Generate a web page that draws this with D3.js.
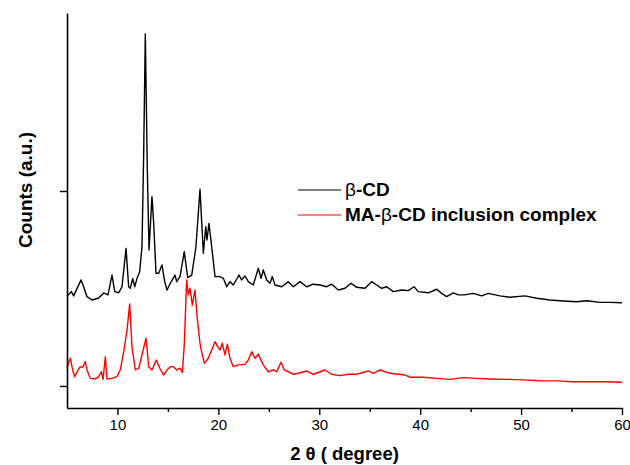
<!doctype html>
<html lang="en">
<head>
<meta charset="utf-8">
<title>XRD</title>
<script src="https://d3js.org/d3.v7.min.js"></script>
<style>
  body { margin: 0; background: #fff; }
  text { font-family: "Liberation Sans", Arial, sans-serif; }
</style>
</head>
<body>
<div id="chart"></div>
<script>
// beta-CD pattern: 2theta (degree), counts (a.u.)
var bcdAngle = [5.0, 5.43, 5.66, 6.39, 6.65, 6.98, 7.48, 8.14, 8.64, 9.06, 9.46, 9.73, 10.12, 10.45, 10.85, 11.11, 11.27, 11.51, 11.71, 11.94,
  12.20, 12.43, 12.60, 12.76, 12.96, 13.13, 13.42, 13.59, 13.82, 14.09, 14.41, 14.68, 14.91, 15.24, 15.70, 15.87, 16.20, 16.62, 16.96, 17.36,
  17.78, 18.18, 18.51, 18.75, 18.87, 19.07, 19.34, 19.67, 20.16, 20.49, 20.83, 21.15, 21.48, 22.04, 22.31, 22.64, 22.97, 23.46, 23.96, 24.23,
  24.45, 24.79, 25.12, 25.35, 25.61, 26.28, 26.93, 27.43, 28.09, 28.75, 29.41, 30.07, 30.74, 31.23, 31.89, 32.55, 33.14, 33.71, 34.53, 35.20,
  35.69, 36.19, 36.68, 37.34, 38.17, 38.82, 39.39, 39.81, 40.80, 41.64, 42.13, 42.63, 43.28, 43.78, 44.37, 45.26, 46.10, 46.75, 47.91, 48.90,
  50.39, 51.55, 52.86, 54.18, 55.51, 56.50, 57.82, 58.81, 60.0];
var bcdCounts = [460, 484, 462, 544, 509, 458, 441, 451, 477, 467, 569, 484, 478, 509, 706, 509, 501, 552, 509, 552,
  586, 714, 1195, 1805, 1108, 697, 971, 836, 578, 578, 621, 535, 492, 527, 569, 535, 561, 689, 556, 569,
  714, 1009, 681, 817, 749, 834, 714, 561, 561, 552, 509, 535, 518, 569, 544, 564, 535, 518, 604, 552,
  595, 544, 527, 561, 518, 509, 535, 509, 535, 509, 522, 518, 509, 522, 492, 501, 527, 506, 501, 535,
  518, 501, 509, 484, 492, 489, 509, 484, 478, 496, 475, 458, 478, 467, 467, 475, 462, 475, 462, 455,
  462, 450, 441, 436, 432, 437, 429, 429, 427];

// MA-beta-CD inclusion complex pattern
var complexAngle = [5.0, 5.33, 5.56, 5.76, 6.09, 6.32, 6.56, 6.81, 6.98, 7.31, 7.80, 8.14, 8.40, 8.57, 8.80, 8.96, 9.46, 9.95, 10.28, 10.62,
  10.95, 11.21, 11.44, 11.77, 12.11, 12.43, 12.83, 13.10, 13.42, 13.85, 14.19, 14.58, 14.91, 15.24, 15.53, 15.87, 16.20, 16.43, 16.62, 16.86,
  17.02, 17.19, 17.42, 17.68, 17.91, 18.18, 18.34, 18.61, 19.00, 19.34, 19.67, 19.94, 20.16, 20.39, 20.66, 20.89, 21.15, 21.48, 21.98, 22.64,
  22.97, 23.30, 23.63, 23.96, 24.45, 24.95, 25.44, 25.78, 26.21, 26.53, 26.93, 27.43, 27.92, 28.75, 29.41, 30.57, 31.23, 32.05, 32.88, 33.71,
  34.86, 35.35, 36.02, 37.01, 38.50, 38.99, 40.31, 41.64, 42.95, 44.27, 45.60, 46.92, 48.57, 50.22, 51.87, 53.53, 55.17, 56.83, 58.48, 60.0];
var complexCounts = [95, 142, 82, 48, 82, 99, 96, 125, 82, 39, 36, 48, 73, 34, 150, 36, 39, 48, 82, 176,
  287, 421, 202, 82, 91, 159, 245, 99, 82, 133, 91, 56, 82, 99, 99, 82, 91, 70, 210, 544,
  467, 501, 415, 492, 347, 219, 176, 116, 142, 185, 227, 202, 185, 219, 159, 214, 142, 99, 108, 111,
  133, 176, 142, 163, 108, 73, 82, 73, 122, 82, 73, 60, 65, 77, 60, 82, 60, 53, 60, 60,
  77, 65, 82, 65, 56, 45, 45, 39, 34, 43, 39, 36, 34, 31, 27, 26, 22, 22, 22, 19];

var majorTicks = [10, 20, 30, 40, 50, 60];
var minorTicks = [15, 25, 35, 45, 55];
var countTicks = [0, 1000];

var seriesNames = ["\u03b2-CD", "MA-\u03b2-CD inclusion complex"];
var seriesColors = ["#000000", "#ff0000"];

var width = 630, height = 465;
var mLeft = 67, mRight = 622, mTop = 13, mBottom = 408;

var svg = d3.select("#chart").append("svg")
  .attr("width", width)
  .attr("height", height);

var x = d3.scaleLinear().domain([5, 60]).range([mLeft, mRight]);
var y = d3.scaleLinear().domain([-113, 1913]).range([mBottom, mTop]);

var line = d3.line()
  .x(function (d) { return x(d[0]); })
  .y(function (d) { return y(d[1]); });

var series = [
  d3.zip(bcdAngle, bcdCounts),
  d3.zip(complexAngle, complexCounts)
];

svg.selectAll("path.trace")
  .data(series)
  .enter()
  .append("path")
  .attr("class", "trace")
  .attr("d", line)
  .attr("fill", "none")
  .attr("stroke", function (d, i) { return seriesColors[i]; })
  .attr("stroke-width", 1.4)
  .attr("stroke-linejoin", "round");

// x axis
var xAxis = svg.append("g")
  .attr("transform", "translate(0," + mBottom + ")")
  .call(d3.axisBottom(x).tickValues(majorTicks).tickSize(7).tickSizeOuter(0).tickPadding(4));
svg.append("g")
  .attr("transform", "translate(0," + mBottom + ")")
  .call(d3.axisBottom(x).tickValues(minorTicks).tickSize(4).tickFormat(""))
  .call(function (g) { g.select(".domain").remove(); });

// y axis
var yAxis = svg.append("g")
  .attr("transform", "translate(" + mLeft + ",0)")
  .call(d3.axisLeft(y).tickValues(countTicks).tickSize(7).tickSizeOuter(0).tickFormat(""));

svg.selectAll(".domain").attr("stroke-width", 1.6);
svg.selectAll(".tick line").attr("stroke-width", 1.4);
xAxis.selectAll(".tick text")
  .attr("font-size", 15)
  .attr("font-family", "Liberation Sans, Arial, sans-serif");

// axis titles
svg.append("text")
  .attr("x", (mLeft + mRight) / 2)
  .attr("y", 460)
  .attr("text-anchor", "middle")
  .attr("font-size", 18.5)
  .attr("font-weight", "bold")
  .text("2 \u03b8 ( degree)");

svg.append("text")
  .attr("transform", "translate(32,190) rotate(-90)")
  .attr("text-anchor", "middle")
  .attr("font-size", 19)
  .attr("font-weight", "bold")
  .text("Counts (a.u.)");

// legend
var legend = svg.append("g");
seriesNames.forEach(function (name, i) {
  var ly = 190 + i * 25;
  legend.append("line")
    .attr("x1", 298).attr("x2", 341)
    .attr("y1", ly).attr("y2", ly)
    .attr("stroke", seriesColors[i])
    .attr("stroke-width", 1.2);
  var t = legend.append("text")
    .attr("x", 345)
    .attr("y", ly + 6)
    .attr("font-size", 19)
    .attr("font-weight", "bold");
  name.split("\u03b2").forEach(function (part, j) {
    if (j > 0) t.append("tspan").attr("font-weight", "normal").text("\u03b2");
    t.append("tspan").text(part);
  });
});
</script>
</body>
</html>
